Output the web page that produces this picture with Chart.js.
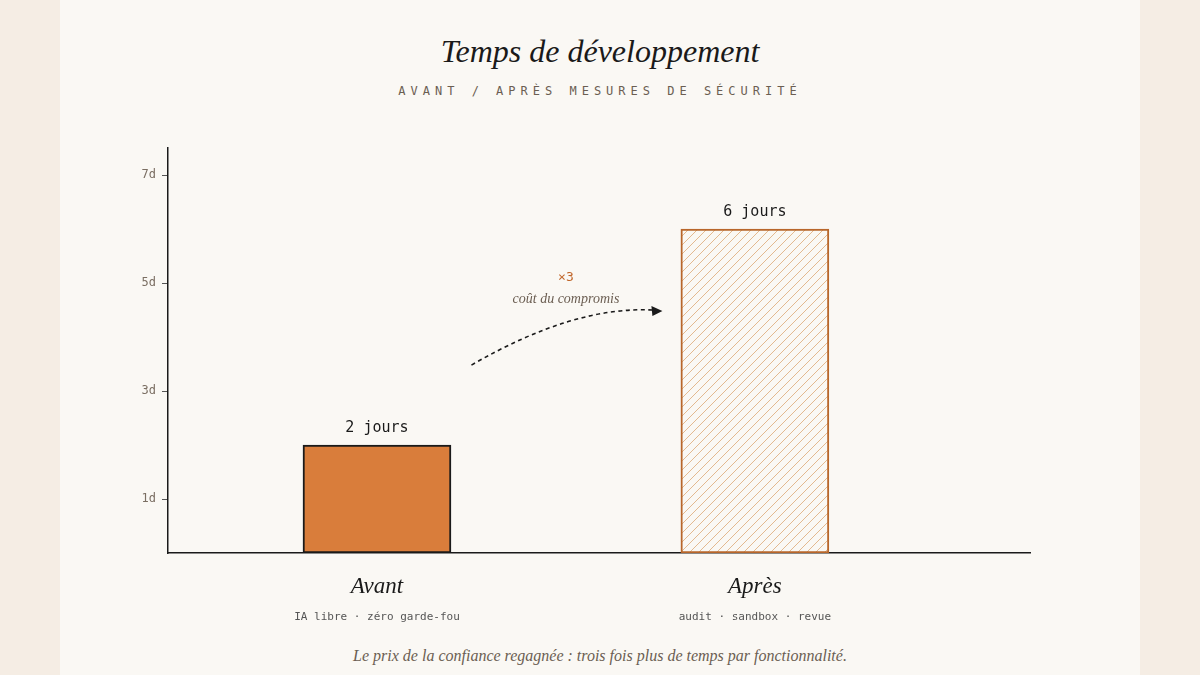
<!DOCTYPE html>
<html><head><meta charset="utf-8">
<script src="https://cdn.jsdelivr.net/npm/chart.js@4"></script>
<style>
html,body{margin:0;padding:0;width:1200px;height:675px;background:#f5ede4;overflow:hidden}
#panel{position:absolute;left:60px;top:0;width:1080px;height:675px;background:#faf8f4}
.t{position:absolute;left:0;width:1200px;text-align:center}
#title{top:33px;font-family:"Liberation Serif",serif;font-style:italic;font-size:32px;color:#1a1a1a}
#sub{top:84px;font-family:"DejaVu Sans Mono",monospace;font-size:12px;letter-spacing:5px;color:#6b5e52}
#foot{top:647px;font-family:"Liberation Serif",serif;font-style:italic;font-size:16px;color:#6b5e52}
canvas{position:absolute;left:0;top:0}
</style></head><body>
<div id="panel"></div>
<div class="t" id="title">Temps de développement</div>
<div class="t" id="sub">AVANT / APRÈS MESURES DE SÉCURITÉ</div>
<div class="t" id="foot">Le prix de la confiance regagnée : trois fois plus de temps par fonctionnalité.</div>
<canvas id="c" width="1200" height="675"></canvas>
<script>
const categories = ['Avant', 'Après'];
const subLabels = ['IA libre · zéro garde-fou', 'audit · sandbox · revue'];
const days = [2, 6];
const valueLabels = ['2 jours', '6 jours'];
const yTicks = [1, 3, 5, 7];
const ratioLabel = '×3';
const ratioNote = 'coût du compromis';

function hatch(){
  const p=document.createElement('canvas');p.width=9;p.height=9;
  const g=p.getContext('2d');g.fillStyle='#faf8f4';g.fillRect(0,0,9,9);
  g.strokeStyle='#e3b98f';g.lineWidth=1;
  g.beginPath();g.moveTo(0,9);g.lineTo(9,0);g.moveTo(-2,2);g.lineTo(2,-2);g.moveTo(7,11);g.lineTo(11,7);g.stroke();
  return g.createPattern(p,'repeat');
}
const ctx=document.getElementById('c').getContext('2d');
const overlay={id:'overlay',afterDatasetsDraw(ch){
  const c=ch.ctx,x=ch.scales.x,y=ch.scales.y;
  c.save();
  c.textAlign='center';
  days.forEach((d,i)=>{
    const px=x.getPixelForValue(i+1);
    c.fillStyle='#1a1a1a';c.font='15px "DejaVu Sans Mono"';c.textBaseline='bottom';
    c.fillText(valueLabels[i],px,y.getPixelForValue(d)-9);
    c.textBaseline='middle';
    c.font='italic 23px "Liberation Serif"';c.fillText(categories[i],px,587);
    c.fillStyle='#555';c.font='11px "DejaVu Sans Mono"';c.fillText(subLabels[i],px,617);
  });
  const sx=x.getPixelForValue(1.25),sy=y.getPixelForValue(3.48);
  const ex=x.getPixelForValue(1.75),ey=y.getPixelForValue(4.5);
  c.strokeStyle='#1a1a1a';c.lineWidth=1.6;c.setLineDash([4,3.5]);
  c.beginPath();c.moveTo(sx,sy);c.quadraticCurveTo(x.getPixelForValue(1.52),ey-4,ex-8,ey);c.stroke();
  c.setLineDash([]);c.fillStyle='#1a1a1a';
  c.beginPath();c.moveTo(ex+2,ey+1);c.lineTo(ex-9,ey-4);c.lineTo(ex-8,ey+6);c.closePath();c.fill();
  const mx=x.getPixelForValue(1.5);
  c.fillStyle='#c0662a';c.font='13px "DejaVu Sans Mono"';c.fillText(ratioLabel,mx,y.getPixelForValue(5.1));
  c.fillStyle='#6b5e52';c.font='italic 14px "Liberation Serif"';c.fillText(ratioNote,mx,y.getPixelForValue(4.7));
  c.restore();
}};
new Chart(ctx,{type:'bar',
  data:{datasets:[{data:days.map((d,i)=>({x:i+1,y:d})),
    backgroundColor:['#d97d3b',hatch()],borderColor:['#1a1a1a','#b8662a'],borderWidth:2,borderSkipped:false,barThickness:148}]},
  options:{responsive:false,animation:false,
    layout:{padding:{left:120,right:170,top:148,bottom:122}},
    plugins:{legend:{display:false},tooltip:{enabled:false}},
    scales:{
      x:{type:'linear',offset:false,min:0.447,max:2.728,ticks:{display:false},grid:{display:false,offset:false},
        border:{color:'#1a1a1a',width:1.5},afterFit(s){s.height=0;}},
      y:{min:0,max:7.5,afterBuildTicks(s){s.ticks=yTicks.map(v=>({value:v}));},
        ticks:{callback:v=>v+'d',color:'#7a6e62',font:{family:'DejaVu Sans Mono',size:12},padding:6},
        grid:{drawOnChartArea:false,tickLength:6,color:'#555'},
        border:{color:'#1a1a1a',width:1.5},afterFit(s){s.width=48;}}
    }},
  plugins:[overlay]});
</script></body></html>
